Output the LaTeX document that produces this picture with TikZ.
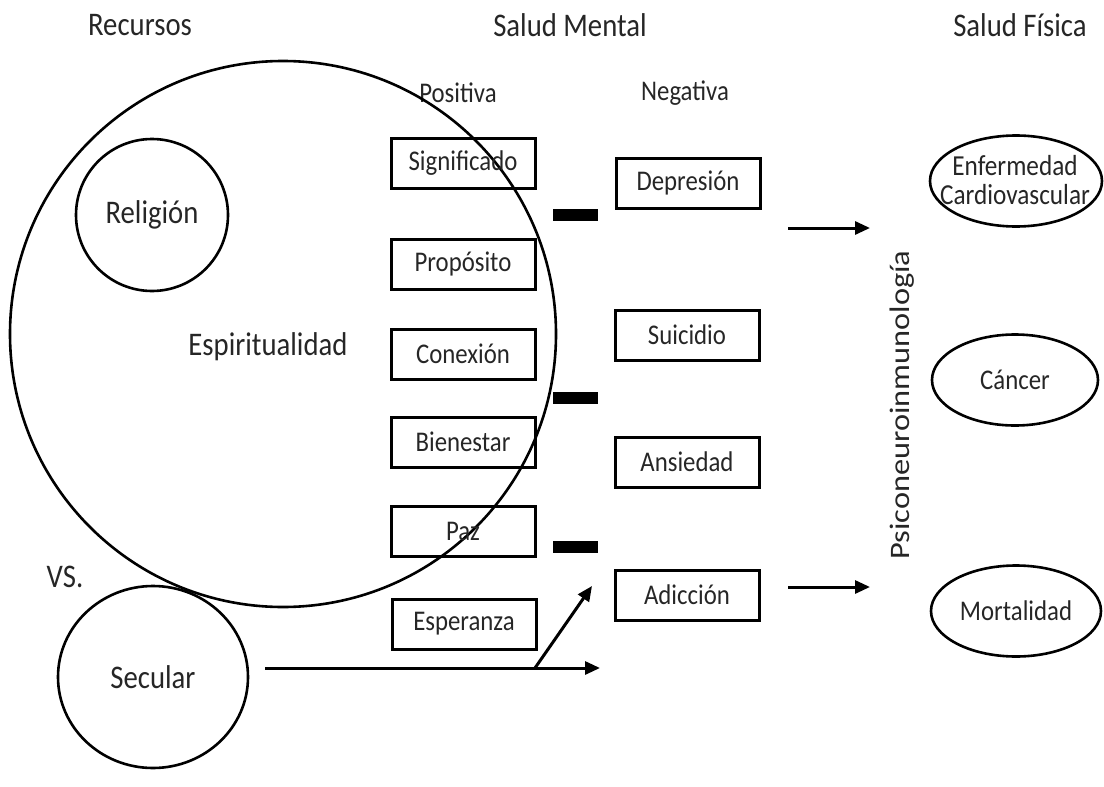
\documentclass[tikz,border=0pt]{standalone}
\usepackage{fontspec}
\setmainfont{Carlito}[FakeStretch=0.87]
\newfontfamily\plainfont{Carlito}
\usetikzlibrary{shapes.geometric,arrows.meta}
\begin{document}
\begin{tikzpicture}[x=1pt,y=-1pt,
  big/.style={font=\fontsize{33}{37}\selectfont, text=black!85, inner sep=0pt},
  txt/.style={font=\fontsize{28.5}{31}\selectfont, text=black!85, inner sep=0pt},
  rbox/.style={txt, draw=black, line width=3pt, minimum width=144pt, minimum height=50pt},
  circ/.style={draw=black, line width=2.6pt, circle, inner sep=0pt},
  ell/.style={txt, draw=black, line width=2.6pt, ellipse, inner sep=0pt},
  bar/.style={fill=black, draw=none, minimum width=45pt, minimum height=12pt, inner sep=0pt},
  arr/.style={line width=3pt, -{Triangle[length=15pt,width=13pt]}}]
\useasboundingbox (0,0) rectangle (1104,787);
% titles
\node[big] (trec) at (140,25) {Recursos};
\node[big] (tsm) at (570,25) {Salud Mental};
\node[big] (tsf) at (1020,25) {Salud Física};
\node[txt] (tpos) at (458,93) {Positiva};
\node[txt] (tneg) at (685,93) {Negativa};
% circles
\node[circ, minimum size=546pt] (esp) at (283,334) {};
\node[big] (esplbl) at (268,347) {Espiritualidad};
\node[circ, big, minimum size=152pt] (rel) at (152,215) {Religión};
\node[big, draw=black, line width=2.6pt, ellipse, minimum width=190pt, minimum height=182pt] (sec) at (153,677) {Secular};
\node[big] (vs) at (65,577) {VS.};
% positive boxes
\node[rbox] (sig) at (463,163) {Significado};
\node[rbox] (pro) at (463,264) {Propósito};
\node[rbox] (con) at (463,354) {Conexión};
\node[rbox] (bie) at (463,442) {Bienestar};
\node[rbox] (paz) at (463,531) {Paz};
\node[rbox] (espz) at (464,624) {Esperanza};
% negative boxes
\node[rbox] (dep) at (688,183) {Depresión};
\node[rbox] (sui) at (687,335) {Suicidio};
\node[rbox] (ans) at (687,462) {Ansiedad};
\node[rbox] (adi) at (687,595) {Adicción};
% bars
\node[bar] (b1) at (575,215) {};
\node[bar] (b2) at (575,398) {};
\node[bar] (b3) at (575,547) {};
% psiconeuro
\node[text=black!85, inner sep=0pt, rotate=90, font=\plainfont\fontsize{32.4}{36}\selectfont] (psi) at (902,405) {\scalebox{1}[0.87]{Psiconeuroinmunología}};
% arrows
\coordinate (a1s) at (788,228);
\coordinate (a1e) at (870,228);
\coordinate (a2s) at (788,587);
\coordinate (a2e) at (870,587);
\draw[arr] (a1s) -- (a1e);
\draw[arr] (a2s) -- (a2e);
\coordinate (secs) at (265,668);
\coordinate (sece) at (600,668);
\coordinate (br) at (535,668);
\coordinate (bre) at (592,586);
\draw[arr] (secs) -- (sece);
\draw[arr] (br) -- (bre);
% outcomes
\node[ell, minimum width=172pt, minimum height=91pt] (enf) at (1016,181) {};
\node[txt, align=center, font=\fontsize{29}{29}\selectfont] (enflbl) at (1015,180) {Enfermedad\\Cardiovascular};
\node[ell, minimum width=166pt, minimum height=91pt] (can) at (1015,380) {Cáncer};
\node[ell, minimum width=170pt, minimum height=91pt] (mor) at (1016,611) {Mortalidad};
\end{tikzpicture}
\end{document}
